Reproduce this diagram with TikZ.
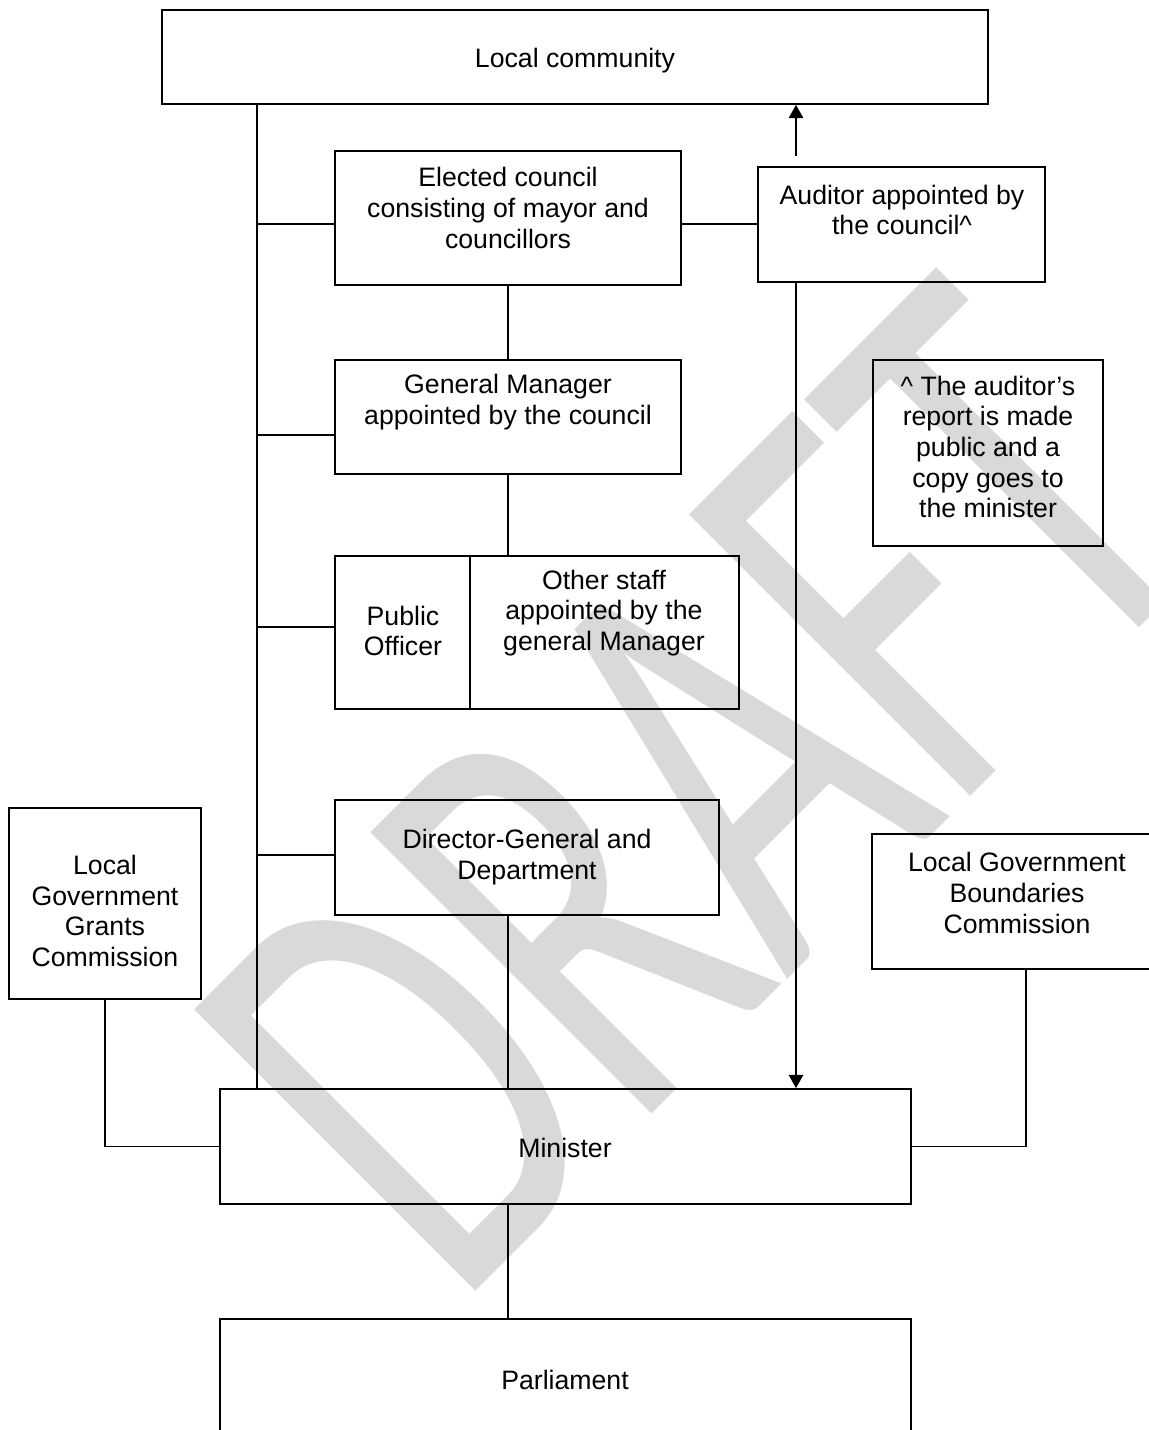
\documentclass[tikz,border=0pt]{standalone}
\usepackage{fontspec}
\setmainfont{Liberation Sans}
\newfontfamily\wmfont{Carlito}
\usetikzlibrary{arrows.meta,positioning,fit,calc}

\tikzset{
  box/.style={draw, line width=0.8pt, inner sep=0pt},
  txt/.style={align=center, inner sep=0pt, font=\fontsize{12}{13.8}\selectfont},
  con/.style={line width=0.8pt},
  pfeil/.style={con, -{Triangle[length=6pt,width=6.5pt]}},
}

\begin{document}
\begin{tikzpicture}[x=0.45pt, y=-0.45pt]
\useasboundingbox (0,0) rectangle (1149,1430);
%Wasserzeichen, gestaucht und um 45 Grad gedreht
\node[rotate=45, text=black!15, inner sep=0pt, font=\wmfont\fontsize{279}{279}\selectfont] (draft) at (698,787) {\scalebox{0.65}[1]{DRAFT}};

%Kaesten (Rahmen per fit, Text darueber)
\node[box, fit={(162,10) (988,104)}] (lc) {};
\node[txt] (lc-t) at (575,61) {Local community};
\node[box, fit={(335,151) (681,285)}] (council) {};
\node[txt] (council-t) at (508,208) {Elected council\\consisting of mayor and\\councillors};
\node[box, fit={(758,167) (1045,282)}] (auditor) {};
\node[txt] (auditor-t) at (902,210) {Auditor appointed by\\the council\textasciicircum};
\node[box, fit={(335,360) (681,474)}] (gm) {};
\node[txt] (gm-t) at (508,402) {General Manager\\appointed by the council};
\node[box, fit={(335,556) (470,709)}] (po) {};
\node[txt] (po-t) at (403,631) {Public\\Officer};
\node[box, fit={(470,556) (739,709)}] (other) {};
\node[txt] (other-t) at (604,613) {Other staff\\appointed by the\\general Manager};
\node[box, fit={(873,360) (1103,546)}] (note) {};
\node[txt] (note-t) at (988,447) {\textasciicircum{} The auditor’s\\report is made\\public and a\\copy goes to\\the minister};
\node[box, fit={(335,800) (719,915)}] (dg) {};
\node[txt] (dg-t) at (527,857) {Director-General and\\Department};
\node[box, fit={(9,808) (201,999)}] (lggc) {};
\node[txt] (lggc-t) at (105,911) {Local\\Government\\Grants\\Commission};
\node[box, fit={(872,834) (1161,969)}] (lgbc) {};
\node[txt] (lgbc-t) at (1017,893) {Local Government\\Boundaries\\Commission};
\node[box, fit={(220,1089) (911,1204)}] (min) {};
\node[txt] (min-t) at (565,1148) {Minister};
\node[box, fit={(220,1319) (911,1434)}] (parl) {};
\node[txt] (parl-t) at (565,1380) {Parliament};

%Verbindungen
\coordinate (trunk) at (257,0);
\coordinate (spine) at (508,0);
\coordinate (audx) at (796,0);
\draw[con] (trunk |- lc.south) -- (trunk |- min.north);
\foreach \n/\y in {council/224, gm/435, po/627, dg/855}
  \draw[con] (trunk |- 0,\y) -- (\n.west |- 0,\y);
\draw[con] (council.east |- 0,224) -- (auditor.west |- 0,224);
\draw[con] (council.south) -- (gm.north);
\draw[con] (gm.south) -- (gm.south |- other.north);
\draw[pfeil, shorten <=4.5pt] (audx |- auditor.north) -- (audx |- lc.south);
\draw[pfeil] (audx |- auditor.south) -- (audx |- min.north);
\draw[con] (spine |- dg.south) -- (spine |- min.north);
\draw[con] (lggc.south) |- (min.west);
\draw[con] (lgbc.south -| 1026,0) |- (min.east);
\draw[con] (spine |- min.south) -- (spine |- parl.north);
\end{tikzpicture}
\end{document}
